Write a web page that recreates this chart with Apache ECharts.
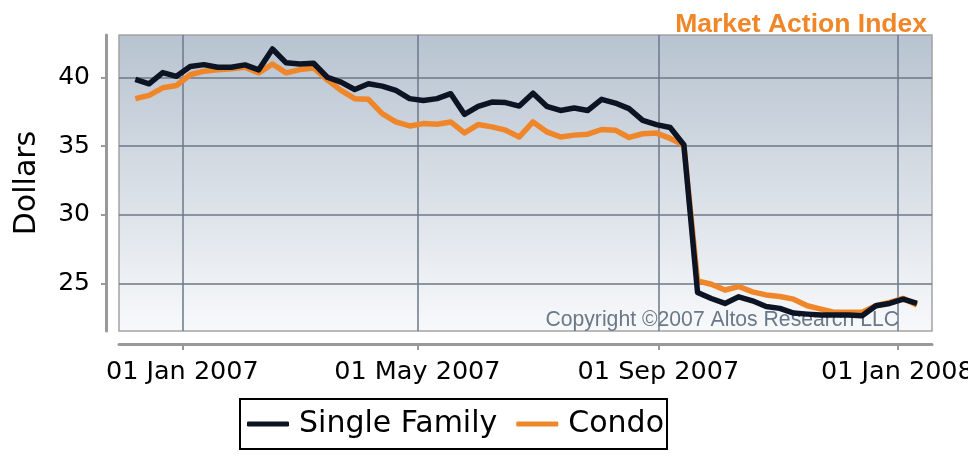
<!DOCTYPE html>
<html>
<head>
<meta charset="utf-8">
<script src="https://cdn.jsdelivr.net/npm/echarts@6/dist/echarts.min.js"></script>
<style>
html, body { margin: 0; padding: 0; background: #fff; }
#main { width: 968px; height: 456px; }
</style>
</head>
<body>
<div id="main"></div>
<script>
// weekly dates
var weeks = [
	'2006-12-08', '2006-12-15', '2006-12-22', '2006-12-29',
	'2007-01-05', '2007-01-12', '2007-01-19', '2007-01-26',
	'2007-02-02', '2007-02-09', '2007-02-16', '2007-02-23',
	'2007-03-02', '2007-03-09', '2007-03-16', '2007-03-23', '2007-03-30',
	'2007-04-06', '2007-04-13', '2007-04-20', '2007-04-27',
	'2007-05-04', '2007-05-11', '2007-05-18', '2007-05-25',
	'2007-06-01', '2007-06-08', '2007-06-15', '2007-06-22', '2007-06-29',
	'2007-07-06', '2007-07-13', '2007-07-20', '2007-07-27',
	'2007-08-03', '2007-08-10', '2007-08-17', '2007-08-24', '2007-08-31',
	'2007-09-07', '2007-09-14', '2007-09-21', '2007-09-28',
	'2007-10-05', '2007-10-12', '2007-10-19', '2007-10-26',
	'2007-11-02', '2007-11-09', '2007-11-16', '2007-11-23', '2007-11-30',
	'2007-12-07', '2007-12-14', '2007-12-21', '2007-12-28',
	'2008-01-04', '2008-01-11'
];

var singleFamily = [
	39.86, 39.54, 40.36, 40.09, 40.80, 40.94, 40.75, 40.75, 40.92, 40.56,
	42.08, 41.07, 40.99, 41.04, 40.02, 39.66, 39.13, 39.54, 39.37, 39.06,
	38.46, 38.33, 38.46, 38.82, 37.32, 37.90, 38.21, 38.17, 37.92, 38.86,
	37.90, 37.60, 37.78, 37.60, 38.41, 38.14, 37.73, 36.88, 36.57, 36.36,
	35.10, 24.33, 23.89, 23.53, 24.01, 23.72, 23.31, 23.17, 22.83, 22.75,
	22.68, 22.68, 22.68, 22.63, 23.36, 23.53, 23.84, 23.53
];

var condo = [
	38.46, 38.70, 39.25, 39.42, 40.20, 40.46, 40.56, 40.63, 40.75, 40.34,
	40.99, 40.34, 40.58, 40.70, 39.83, 39.06, 38.46, 38.41, 37.37, 36.76,
	36.47, 36.64, 36.59, 36.76, 35.96, 36.57, 36.40, 36.16, 35.67, 36.76,
	36.04, 35.67, 35.80, 35.87, 36.21, 36.16, 35.63, 35.90, 35.95, 35.56,
	35.07, 25.17, 24.93, 24.51, 24.76, 24.37, 24.15, 24.04, 23.84, 23.36,
	23.12, 22.88, 22.88, 22.88, 23.36, 23.60, 23.89, 23.41
];

var xTicks = ['2007-01-01', '2007-05-01', '2007-09-01', '2008-01-01'];
var yTicks = [25, 30, 35, 40];
var monthNames = ['Jan', 'Feb', 'Mar', 'Apr', 'May', 'Jun', 'Jul', 'Aug', 'Sep', 'Oct', 'Nov', 'Dec'];

var xMin = new Date(2006, 10, 29, 16).getTime();
var xMax = new Date(2008, 0, 18, 16).getTime();

function toTime(s) {
	var p = s.split('-');
	return new Date(+p[0], +p[1] - 1, +p[2]).getTime();
}
function pairs(vals) {
	var out = [];
	for (var i = 0; i < vals.length; i++) {
		out.push([toTime(weeks[i]), vals[i]]);
	}
	return out;
}

var axisFont = 'DejaVu Sans';
var dom = document.getElementById('main');
var chart = echarts.init(dom);

var option = {
	animation: false,
	title: {
		text: 'Market Action Index',
		right: 36,
		top: 6,
		textStyle: {
			color: '#f0862a',
			fontSize: 26.5,
			fontWeight: 'bold',
			fontFamily: 'Liberation Sans'
		}
	},
	legend: {
		data: ['Single Family', 'Condo'],
		left: 240,
		top: 399,
		backgroundColor: '#fff',
		borderColor: '#000',
		borderWidth: 2,
		padding: [10, 3, 10, 7],
		itemGap: 19,
		itemWidth: 42,
		itemHeight: 5,
		icon: 'roundRect',
		textStyle: {
			fontFamily: axisFont,
			fontSize: 30,
			color: '#000',
			padding: [0, 0, 0, 5]
		}
	},
	grid: {
		left: 119,
		right: 36,
		top: 35,
		bottom: 125,
		outerBoundsMode: 'none',
		show: true,
		borderColor: '#a3a3a3',
		borderWidth: 1.5,
		backgroundColor: new echarts.graphic.LinearGradient(0, 0, 0, 1, [
			{ offset: 0, color: '#b7c3d0' },
			{ offset: 1, color: '#f8f9fb' }
		])
	},
	xAxis: {
		type: 'value',
		min: xMin,
		max: xMax,
		offset: 13,
		axisLine: { show: true, lineStyle: { color: '#999', width: 3 } },
		axisTick: {
			show: true,
			length: 6,
			lineStyle: { color: '#999', width: 2 },
			customValues: xTicks.map(toTime)
		},
		axisLabel: {
			customValues: xTicks.map(toTime),
			margin: 15,
			fontFamily: axisFont,
			fontSize: 25.5,
			color: '#000',
			hideOverlap: false,
			formatter: function (v) {
				var d = new Date(v);
				var day = d.getDate() < 10 ? '0' + d.getDate() : '' + d.getDate();
				return day + ' ' + monthNames[d.getMonth()] + ' ' + d.getFullYear();
			}
		},
		splitLine: { show: true, lineStyle: { color: '#6c7988', width: 1.5 } }
	},
	yAxis: {
		type: 'value',
		min: 21.52,
		max: 43.1,
		offset: 13,
		name: 'Dollars',
		nameLocation: 'middle',
		nameGap: 64,
		nameTextStyle: { fontFamily: axisFont, fontSize: 30, color: '#000' },
		axisLine: { show: true, lineStyle: { color: '#999', width: 3 } },
		axisTick: {
			show: true,
			length: 5,
			lineStyle: { color: '#999', width: 2 },
			customValues: yTicks
		},
		axisLabel: {
			customValues: yTicks,
			margin: 16,
			fontFamily: axisFont,
			fontSize: 25,
			color: '#000'
		},
		splitLine: { show: true, lineStyle: { color: '#6c7988', width: 1.5 } }
	},
	graphic: [
		{
			type: 'text',
			right: 69,
			top: 310,
			z: 1,
			style: {
				text: 'Copyright ©2007 Altos Research LLC',
				fill: '#6a7888',
				font: '21.2px "Liberation Sans"'
			}
		}
	],
	series: [
		{
			name: 'Single Family',
			type: 'line',
			z: 4,
			symbol: 'none',
			data: pairs(singleFamily),
			itemStyle: { color: '#0c1424' },
			lineStyle: { color: '#0c1424', width: 5.5, join: 'round' }
		},
		{
			name: 'Condo',
			type: 'line',
			z: 3,
			symbol: 'none',
			data: pairs(condo),
			itemStyle: { color: '#f0862a' },
			lineStyle: { color: '#f0862a', width: 5.5, join: 'round' }
		}
	]
};

chart.setOption(option);
</script>
</body>
</html>
